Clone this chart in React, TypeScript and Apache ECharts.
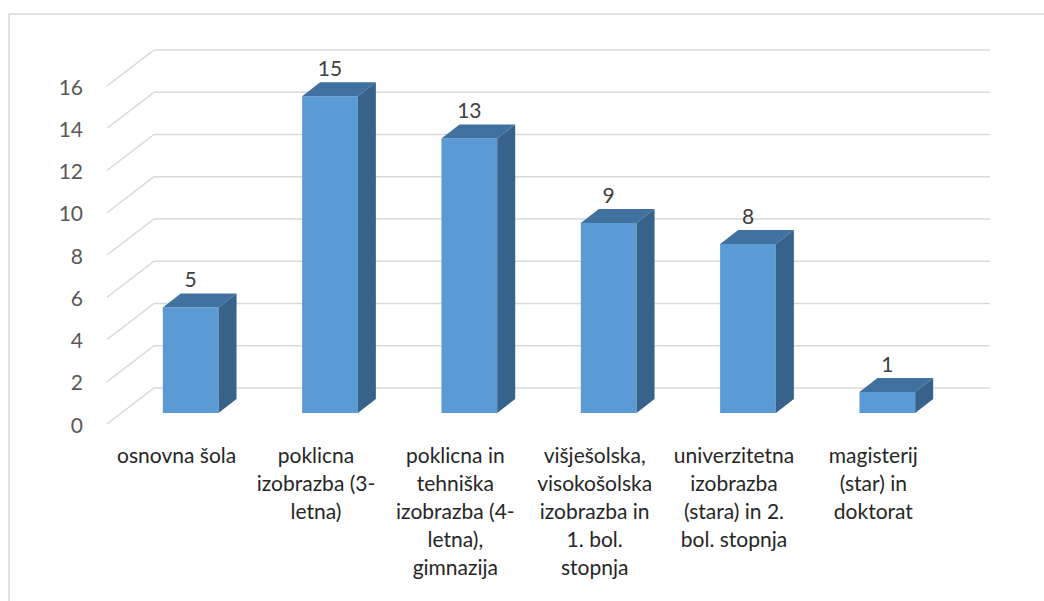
import React, { useEffect, useRef } from "react";
import * as echarts from "echarts";

const categories = [
  "osnovna šola",
  "poklicna\nizobrazba (3-\nletna)",
  "poklicna in\ntehniška\nizobrazba (4-\nletna),\ngimnazija",
  "višješolska,\nvisokošolska\nizobrazba in\n1. bol.\nstopnja",
  "univerzitetna\nizobrazba\n(stara) in 2.\nbol. stopnja",
  "magisterij\n(star) in\ndoktorat",
];
const values = [5, 15, 13, 9, 8, 1];
const yTicks = [0, 2, 4, 6, 8, 10, 12, 14, 16];
const yMin = 0;
const yMax = 16;
const yInterval = 2;

const FONT = "Lato, 'Liberation Sans', sans-serif";

export default function App() {
  const ref = useRef<HTMLDivElement>(null);
  useEffect(() => {
    if (!ref.current) return;
    const chart = echarts.init(ref.current, null, { renderer: "svg" });
    // depth offsets relative to the bar plane
    const FRONT = [-14, 11];
    const BACK = [33, -25];
    const DEPTH = [18, -14];

    chart.setOption({
      animation: false,
      backgroundColor: "#ffffff",
      graphic: [
        {
          type: "rect",
          shape: { x: 9, y: 14, width: 1100, height: 700 },
          style: { fill: "none", stroke: "#d9d9d9", lineWidth: 1.5 },
          silent: true,
          z: -10,
        },
      ],
      grid: [
        { left: 121, right: 87, top: 75, bottom: 188 },
        { left: 107, right: 101, top: 86, bottom: 177 },
      ],
      xAxis: [
        { type: "category", gridIndex: 0, data: categories, show: false },
        {
          type: "category",
          gridIndex: 1,
          data: categories,
          axisLine: { show: false },
          axisTick: { show: false },
          axisLabel: {
            interval: 0,
            margin: 16,
            color: "#262626",
            fontSize: 21,
            lineHeight: 28,
            fontFamily: FONT,
            align: "center",
          },
        },
      ],
      yAxis: [
        { type: "value", gridIndex: 0, min: yMin, max: yMax, interval: yInterval, show: false },
        {
          type: "value",
          gridIndex: 1,
          min: yMin,
          max: yMax,
          interval: yInterval,
          axisLine: { show: false },
          axisTick: { show: false },
          splitLine: { show: false },
          axisLabel: { margin: 24, color: "#595959", fontSize: 21, fontFamily: FONT },
        },
      ],
      series: [
        {
          type: "custom",
          xAxisIndex: 0,
          yAxisIndex: 0,
          z: 1,
          silent: true,
          data: yTicks.map((t) => [0, t]),
          renderItem: (params: any, api: any) => {
            const cs = params.coordSys;
            const y = api.coord([0, api.value(1)])[1];
            const x0 = cs.x;
            const x1 = cs.x + cs.width;
            const style = { stroke: "#d9d9d9", lineWidth: 1.5, fill: "none" };
            return {
              type: "polyline",
              shape: {
                points: [
                  [x0 + FRONT[0], y + FRONT[1]],
                  [x0 + BACK[0], y + BACK[1]],
                  [x1 + BACK[0], y + BACK[1]],
                ],
              },
              style,
            };
          },
        },
        {
          type: "custom",
          xAxisIndex: 0,
          yAxisIndex: 0,
          z: 5,
          silent: true,
          data: values.map((v, i) => [i, v]),
          renderItem: (params: any, api: any) => {
            const i = api.value(0);
            const v = api.value(1);
            const top = api.coord([i, v]);
            const base = api.coord([i, 0]);
            const w = api.size([1, 0])[0] * 0.4;
            const x = top[0] - w / 2;
            const y = top[1];
            const b = base[1];
            const dx = DEPTH[0];
            const dy = DEPTH[1];
            return {
              type: "group",
              children: [
                {
                  type: "rect",
                  shape: { x, y, width: w, height: b - y },
                  style: { fill: "#5b9bd5" },
                },
                {
                  type: "polygon",
                  shape: {
                    points: [
                      [x, y],
                      [x + w, y],
                      [x + w + dx, y + dy],
                      [x + dx, y + dy],
                    ],
                  },
                  style: { fill: "#41729f" },
                },
                {
                  type: "polygon",
                  shape: {
                    points: [
                      [x + w, y],
                      [x + w + dx, y + dy],
                      [x + w + dx, b + dy],
                      [x + w, b],
                    ],
                  },
                  style: { fill: "#37628a" },
                },
                {
                  type: "text",
                  x: top[0],
                  y: y + dy - 4,
                  style: {
                    text: String(v),
                    fill: "#404040",
                    fontSize: 21,
                    fontFamily: FONT,
                    align: "center",
                    verticalAlign: "bottom",
                  },
                },
              ],
            };
          },
        },
      ],
    });
    return () => chart.dispose();
  }, []);
  return (
    <div
      ref={ref}
      style={{ position: "absolute", left: 0, top: 0, width: 1044, height: 601 }}
    />
  );
}
